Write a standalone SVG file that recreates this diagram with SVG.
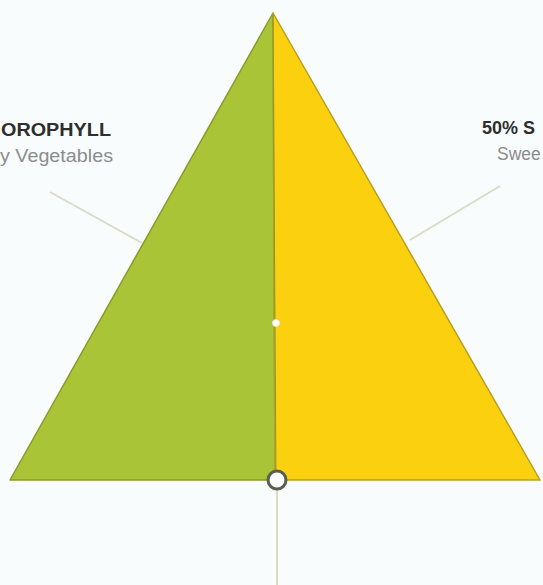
<svg xmlns="http://www.w3.org/2000/svg" width="543" height="585" viewBox="0 0 543 585">
<style>
.t{font-family:"Liberation Sans",Arial,sans-serif;font-size:18px}
.b{font-weight:bold;fill:#2e2e2e}
.g{fill:#8c8c8c;font-size:17.5px}
.lead{stroke:#d9dcc4;stroke-width:2;fill:none}
</style>
<rect width="543" height="585" fill="#f8fcfd"/>
<g id="connectors">
<line class="lead" x1="50" y1="192" x2="142" y2="243"/>
<line class="lead" x1="500" y1="186" x2="410" y2="240"/>
<line class="lead" x1="277" y1="489" x2="277" y2="585"/>
</g>
<g id="triangle">
<polygon points="273,13 275,480 10,480" fill="#a9c537" stroke="#8a9a28" stroke-width="1.5" stroke-linejoin="round"/>
<polygon points="273,13 540,480 275,480" fill="#fbd00e" stroke="#b8a020" stroke-width="1.5" stroke-linejoin="round"/>
<line x1="273" y1="14" x2="276" y2="479" stroke="#8c9a30" stroke-width="1"/>
</g>
<g id="center-dot"><circle cx="276" cy="323" r="3.5" fill="#ffffff" stroke="#e8e8d0" stroke-width="1"/></g>
<g id="base-dot"><circle cx="277" cy="480" r="9" fill="#ffffff" stroke="#5a5e50" stroke-width="3"/></g>
<g id="label-left">
<text class="t b" x="1" y="136" textLength="110" lengthAdjust="spacingAndGlyphs">OROPHYLL</text>
<text class="t g" x="0" y="162" textLength="113" lengthAdjust="spacingAndGlyphs">y Vegetables</text>
</g>
<g id="label-right">
<text class="t b" x="482" y="134" font-size="19">50% S</text>
<text class="t g" x="497" y="160">Swee</text>
</g>
</svg>
